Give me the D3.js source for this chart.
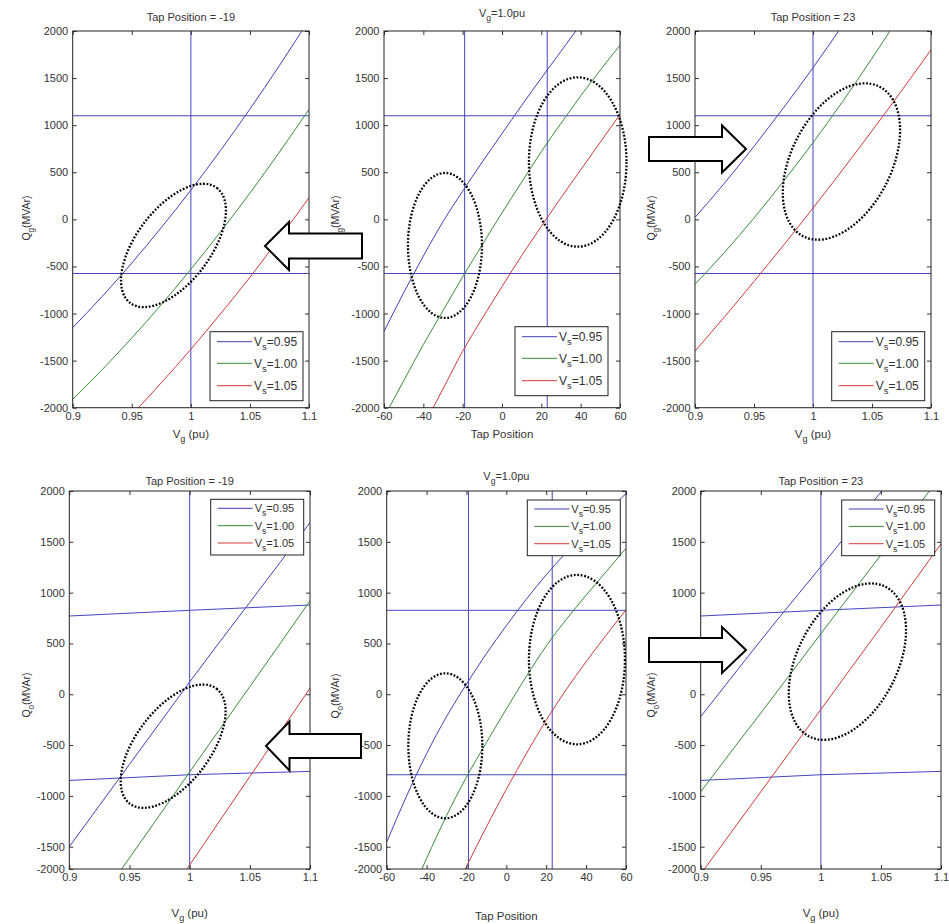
<!DOCTYPE html>
<html>
<head>
<meta charset="utf-8">
<script src="https://cdnjs.cloudflare.com/ajax/libs/d3/7.8.5/d3.min.js"></script>
<style>
  body { margin: 0; background: #fff; }
  svg text { font-family: "Liberation Sans", Arial, sans-serif; fill: #333; }
</style>
</head>
<body>
<svg id="fig" width="949" height="924"></svg>
<script>
// ---- data ----
var vgGrid   = [0.9, 0.925, 0.95, 0.975, 1.0, 1.025, 1.05, 1.075, 1.1];
var tapGrid  = [-60, -50, -40, -30, -20, -10, 0, 10, 20, 30, 40, 50, 60];
var vgTicks  = [0.9, 0.95, 1, 1.05, 1.1];
var tapTicks = [-60, -40, -20, 0, 20, 40, 60];
var qTicks   = [-2000, -1500, -1000, -500, 0, 500, 1000, 1500, 2000];
var vsNames  = ["0.95", "1.00", "1.05"];
var tapSelected = [-19, 23];
var vgNominal = 1.0;

// Q_g vs V_g, tap = -19
var qgTapM19_095 = [-1150, -818, -464, -88, 310, 730, 1171, 1634, 2118];
var qgTapM19_100 = [-1911, -1595, -1260, -905, -530, -135, 279, 714, 1168];
var qgTapM19_105 = [-2690, -2390, -2075, -1735, -1380, -1005, -615, -200, 230];
// Q_g vs tap, V_g = 1.0
var qgVg1_095 = [-1190, -780, -390, -25, 300, 610, 910, 1210, 1500, 1785, 2070, 2350, 2630];
var qgVg1_100 = [-2100, -1715, -1330, -970, -610, -270, 70, 395, 720, 1020, 1310, 1585, 1850];
var qgVg1_105 = [-3000, -2600, -2200, -1800, -1400, -1050, -715, -385, -75, 230, 525, 820, 1115];
// Q_g vs V_g, tap = 23
var qgTap23_095 = [20, 385, 775, 1185, 1610, 2060, 2525, 3015, 3520];
var qgTap23_100 = [-690, -350, 15, 405, 815, 1250, 1710, 2190, 2695];
var qgTap23_105 = [-1400, -1035, -660, -275, 120, 525, 940, 1365, 1800];

// Q_o vs V_g, tap = -19
var qoTapM19_095 = [-1500, -1095, -690, -285, 120, 515, 905, 1295, 1690];
var qoTapM19_100 = [-2450, -2030, -1610, -1190, -765, -345, 75, 495, 920];
var qoTapM19_105 = [-3420, -2985, -2550, -2115, -1680, -1245, -810, -375, 60];
// Q_o vs tap, V_g = 1.0
var qoVg1_095 = [-1455, -1000, -585, -220, 100, 400, 675, 935, 1175, 1395, 1595, 1785, 1975];
var qoVg1_100 = [-2500, -2065, -1615, -1195, -815, -475, -145, 175, 475, 735, 975, 1205, 1435];
var qoVg1_105 = [-3330, -2920, -2510, -2100, -1695, -1305, -935, -585, -255, 45, 320, 580, 830];
// Q_o vs V_g, tap = 23
var qoTap23_095 = [-220, 155, 530, 895, 1255, 1620, 1990, 2360, 2730];
var qoTap23_100 = [-960, -570, -185, 205, 595, 985, 1370, 1760, 2150];
var qoTap23_105 = [-1770, -1365, -960, -555, -150, 255, 660, 1070, 1480];

// limits
var qgMax = 1100, qgMin = -575;
var limitVg = [0.9, 1.0, 1.1];
var qoMaxVg = [770, 826, 878];
var qoMinVg = [-848, -792, -759];
var qoMaxNom = 826, qoMinNom = -792;

// ---- layout ----
var colors = ["#4040b8", "#3a8c3a", "#d03a3a"];
var refColor = "#4545c0";
var rowTop = {y0: 31, y1: 407.7, tickPad: 5, xlabY: 437.5, titleY: 21.3, titleVgY: 17.3, legFs: 12, legH: 69, legRows: [10, 31.6, 54]};
// bottom row: the -2000 label sits squeezed against -1500 in the source, so the
// tick axis is polylinear while the curves keep the regular spacing
var rowBot = {y0: 491, yk: 846.7, y1: 869, tickPad: 4, xlabY: 916.5, xlabTapY: 919.5, titleY: 485, titleVgY: 479.7, legFs: 11, legH: 55.7, legRows: [9, 26.4, 43.7]};

var panels = [
  {row: rowTop, x0: 72.7, x1: 309, kind: "vg", tap: -19, q: "g", series: [qgTapM19_095, qgTapM19_100, qgTapM19_105],
   ylabX: 30, ylabY: 218, leg: {x: 210, y: 331.7},
   rings: [[0.9853, -277, 72, 37, -53]]},
  {row: rowTop, x0: 384, x1: 620, kind: "tap", q: "g", series: [qgVg1_095, qgVg1_100, qgVg1_105],
   ylabX: 339, ylabY: 218, leg: {x: 515, y: 326.7},
   rings: [[-29, -277, 37, 72.5, 0], [38.5, 609, 48.8, 84.7, 0]]},
  {row: rowTop, x0: 695, x1: 931, kind: "vg", tap: 23, q: "g", series: [qgTap23_095, qgTap23_100, qgTap23_105],
   ylabX: 655, ylabY: 218, leg: {x: 831.7, y: 331.7},
   rings: [[1.0241, 614, 84, 50, -63]]},
  {row: rowBot, x0: 69.3, x1: 310, kind: "vg", tap: -19, q: "o", series: [qoTapM19_095, qoTapM19_100, qoTapM19_105],
   ylabX: 30, ylabY: 695, leg: {x: 210.7, y: 499.3},
   rings: [[0.9863, -511, 72, 37, -53]]},
  {row: rowBot, x0: 386.7, x1: 626, kind: "tap", q: "o", series: [qoVg1_095, qoVg1_100, qoVg1_105],
   ylabX: 339, ylabY: 696, leg: {x: 527.3, y: 500},
   rings: [[-30.6, -507, 37, 72.5, 0], [35.4, 341, 48, 84.7, 0]]},
  {row: rowBot, x0: 700.7, x1: 941, kind: "vg", tap: 23, q: "o", series: [qoTap23_095, qoTap23_100, qoTap23_105],
   ylabX: 655, ylabY: 695, leg: {x: 841.7, y: 500},
   rings: [[1.0221, 321, 84, 50, -63]]}
];

var fig = d3.select("#fig");
var defs = fig.append("defs");

// text with subscripts: parts = [[str, isSub], ...]
function richText(g, x, y, parts, size, anchor) {
  var t = g.append("text").attr("x", x).attr("y", y)
    .attr("font-size", size).attr("text-anchor", anchor || "start");
  var shift = 0;
  parts.forEach(function(p) {
    var s = t.append("tspan").text(p[0]);
    var target = p[1] ? size * 0.35 : 0;
    if (target !== shift) { s.attr("dy", target - shift); shift = target; }
    if (p[1]) s.attr("font-size", size * 0.78);
  });
  return t;
}

panels.forEach(function(p, i) {
  var r = p.row;
  var xs = p.kind == "vg" ? vgGrid : tapGrid;
  var x = d3.scaleLinear().domain(p.kind == "vg" ? [0.9, 1.1] : [-60, 60]).range([p.x0, p.x1]);
  var yAxis = r.yk
    ? d3.scaleLinear().domain([-2000, -1500, 2000]).range([r.y1, r.yk, r.y0])
    : d3.scaleLinear().domain([-2000, 2000]).range([r.y1, r.y0]);
  var y = r.yk
    ? d3.scaleLinear().domain([-1500, 2000]).range([r.yk, r.y0])
    : yAxis;
  var g = fig.append("g");

  defs.append("clipPath").attr("id", "clip" + i).append("rect")
    .attr("x", p.x0).attr("y", r.y0).attr("width", p.x1 - p.x0).attr("height", r.y1 - r.y0);

  var plot = g.append("g").attr("clip-path", "url(#clip" + i + ")");
  var line = d3.line().x(function(d) { return x(d[0]); }).y(function(d) { return y(d[1]); });
  var curve = d3.line().curve(d3.curveMonotoneX)
    .x(function(d) { return x(d[0]); }).y(function(d) { return y(d[1]); });

  // limit lines
  var refs = [];
  if (p.q == "g") {
    refs.push([[x.domain()[0], qgMax], [x.domain()[1], qgMax]]);
    refs.push([[x.domain()[0], qgMin], [x.domain()[1], qgMin]]);
  } else if (p.kind == "vg") {
    refs.push(d3.zip(limitVg, qoMaxVg));
    refs.push(d3.zip(limitVg, qoMinVg));
  } else {
    refs.push([[-60, qoMaxNom], [60, qoMaxNom]]);
    refs.push([[-60, qoMinNom], [60, qoMinNom]]);
  }
  var verts = p.kind == "vg" ? [vgNominal] : tapSelected;
  verts.forEach(function(v) { refs.push([[v, -2500], [v, 2000]]); });

  plot.selectAll(".ref").data(refs).enter().append("path")
    .attr("class", "ref").attr("d", line)
    .attr("fill", "none").attr("stroke", refColor).attr("stroke-width", 1);

  plot.selectAll(".curve").data(p.series).enter().append("path")
    .attr("class", "curve")
    .attr("d", function(s) { return curve(d3.zip(xs, s)); })
    .attr("fill", "none")
    .attr("stroke", function(s, k) { return colors[k]; })
    .attr("stroke-width", 1);

  // axes (MATLAB style, ticks inside on all sides)
  var fmt = function(d) { return String(d); };
  var ax = g.append("g").attr("transform", "translate(0," + r.y1 + ")")
    .call(d3.axisBottom(x).tickValues(p.kind == "vg" ? vgTicks : tapTicks)
      .tickSizeInner(-4).tickSizeOuter(0).tickPadding(r.tickPad).tickFormat(fmt));
  var axT = g.append("g").attr("transform", "translate(0," + r.y0 + ")")
    .call(d3.axisTop(x).tickValues(p.kind == "vg" ? vgTicks : tapTicks)
      .tickSizeInner(-4).tickSizeOuter(0).tickFormat(""));
  var ay = g.append("g").attr("transform", "translate(" + p.x0 + ",0)")
    .call(d3.axisLeft(yAxis).tickValues(qTicks)
      .tickSizeInner(-4).tickSizeOuter(0).tickPadding(4.5).tickFormat(fmt));
  var ayR = g.append("g").attr("transform", "translate(" + p.x1 + ",0)")
    .call(d3.axisRight(yAxis).tickValues(qTicks)
      .tickSizeInner(-4).tickSizeOuter(0).tickFormat(""));
  [ax, axT, ay, ayR].forEach(function(a) {
    a.select(".domain").remove();
    a.selectAll("line").attr("stroke", "#333");
    a.selectAll("text").attr("font-size", 11).attr("font-family", null).attr("fill", "#333");
  });

  g.append("rect").attr("x", p.x0).attr("y", r.y0)
    .attr("width", p.x1 - p.x0).attr("height", r.y1 - r.y0)
    .attr("fill", "none").attr("stroke", "#222").attr("stroke-width", 1);

  // titles and labels
  var cx = (p.x0 + p.x1) / 2;
  if (p.kind == "vg") {
    g.append("text").attr("x", cx).attr("y", r.titleY).attr("text-anchor", "middle")
      .attr("font-size", 11).text("Tap Position = " + p.tap);
    richText(g, cx, r.xlabY, [["V", 0], ["g", 1], [" (pu)", 0]], 11.5, "middle");
  } else {
    richText(g, cx, r.titleVgY, [["V", 0], ["g", 1], ["=1.0pu", 0]], 11, "middle");
    g.append("text").attr("x", cx).attr("y", r.xlabTapY || r.xlabY).attr("text-anchor", "middle")
      .attr("font-size", 11.5).text("Tap Position");
  }
  var yl = g.append("g").attr("transform", "translate(" + p.ylabX + "," + p.ylabY + ") rotate(-90)");
  richText(yl, 0, 0, [["Q", 0], [p.q, 1], ["(MVAr)", 0]], 10.5, "middle");

  // legend
  var lw = 93;
  var lg = g.append("g").attr("transform", "translate(" + p.leg.x + "," + p.leg.y + ")");
  lg.append("rect").attr("width", lw).attr("height", r.legH)
    .attr("fill", "#fff").attr("stroke", "#222").attr("stroke-width", 1);
  vsNames.forEach(function(n, k) {
    var ly = r.legRows[k];
    lg.append("line").attr("x1", 7).attr("x2", 42).attr("y1", ly).attr("y2", ly)
      .attr("stroke", colors[k]).attr("stroke-width", 1);
    richText(lg, 44, ly + r.legFs * 0.36, [["V", 0], ["s", 1], ["=" + n, 0]], r.legFs, "start");
  });

  // dotted rings
  p.rings.forEach(function(e) {
    g.append("ellipse")
      .attr("transform", "translate(" + x(e[0]) + "," + y(e[1]) + ") rotate(" + e[4] + ")")
      .attr("rx", e[2]).attr("ry", e[3])
      .attr("fill", "none").attr("stroke", "#000").attr("stroke-width", 2.3)
      .attr("stroke-dasharray", "1.8,1.7");
  });
});

// block arrows between panels
var arrows = [
  {tip: [265, 246], tail: 362, head: 24, headHalf: 24, shaftHalf: 12.5},
  {tip: [746, 149], tail: 649, head: 24, headHalf: 23.5, shaftHalf: 12},
  {tip: [266, 746], tail: 361, head: 23.5, headHalf: 24.5, shaftHalf: 12},
  {tip: [746, 650], tail: 649, head: 24, headHalf: 23, shaftHalf: 12}
];
fig.selectAll(".arrow").data(arrows).enter().append("path")
  .attr("class", "arrow")
  .attr("d", function(a) {
    var d = a.tail > a.tip[0] ? 1 : -1;
    var bx = a.tip[0] + d * a.head, ty = a.tip[1];
    return d3.line()([[a.tip[0], ty], [bx, ty - a.headHalf], [bx, ty - a.shaftHalf],
      [a.tail, ty - a.shaftHalf], [a.tail, ty + a.shaftHalf], [bx, ty + a.shaftHalf],
      [bx, ty + a.headHalf]]) + "Z";
  })
  .attr("fill", "#fff").attr("stroke", "#000").attr("stroke-width", 2)
  .attr("stroke-linejoin", "miter");
</script>
</body>
</html>
